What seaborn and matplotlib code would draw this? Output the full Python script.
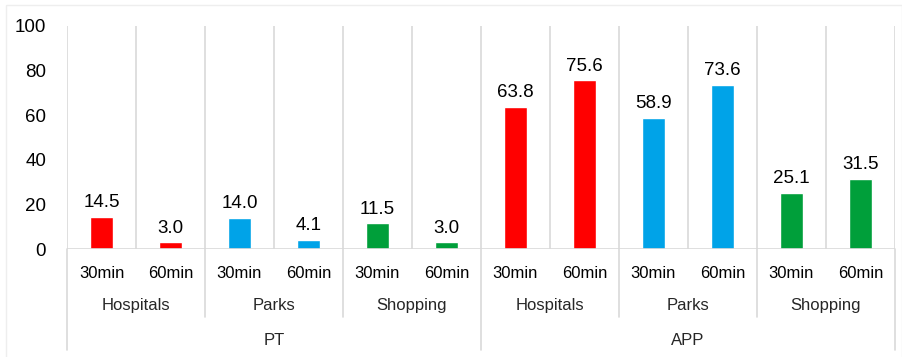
import matplotlib
matplotlib.use("Agg")
import matplotlib.pyplot as plt
import matplotlib.transforms as mtransforms
from matplotlib.patches import Rectangle
import pandas as pd
import seaborn as sns

# Share of population reaching each destination type within a travel-time threshold
modes = ["PT", "APP"]
destinations = ["Hospitals", "Parks", "Shopping"]
thresholds = ["30min", "60min"]
pt_values = [14.5, 3.0, 14.0, 4.1, 11.5, 3.0]
app_values = [63.8, 75.6, 58.9, 73.6, 25.1, 31.5]
dest_colors = {"Hospitals": "#FF0000", "Parks": "#00A3E8", "Shopping": "#009F3A"}

rows = []
for mode, vals in zip(modes, [pt_values, app_values]):
    i = 0
    for dest in destinations:
        for th in thresholds:
            rows.append({"mode": mode, "dest": dest, "th": th,
                         "key": f"{mode}|{dest}|{th}", "value": vals[i]})
            i += 1
df = pd.DataFrame(rows)
palette = {r.key: dest_colors[r.dest] for r in df.itertuples()}

sns.set_theme(style="white")
plt.rcParams["font.family"] = ["Liberation Sans", "DejaVu Sans"]

fig = plt.figure(figsize=(9.03, 3.57), dpi=100)
ax = fig.add_axes([67 / 903, 108 / 357, 828 / 903, 223 / 357])

sns.barplot(data=df, x="key", y="value", hue="key", palette=palette,
            width=0.32, legend=False, ax=ax, saturation=1)

grid_c = "#D9D9D9"
n = len(df)
ax.set_xlim(-0.5, n - 0.5)
ax.set_ylim(0, 100)
ax.set_yticks([0, 20, 40, 60, 80, 100])
ax.tick_params(axis="y", length=0, labelsize=13.5, pad=15, colors="black")
ax.set_xticks(range(n))
ax.set_xticklabels(df["th"], fontsize=12)
ax.tick_params(axis="x", length=0, pad=12, colors="black")
ax.set_xlabel("")
ax.set_ylabel("")
for s in ax.spines.values():
    s.set_visible(False)
ax.axhline(0, color=grid_c, lw=1.2, zorder=1)

# vertical separators between every bar
for b in range(n + 1):
    ax.axvline(b - 0.5, color=grid_c, lw=1.2, zorder=0)

# value labels
for i, v in enumerate(df["value"]):
    ax.text(i, v + 2.5, f"{v:.1f}", ha="center", va="bottom", fontsize=13.5,
            color="black")

# multi-level category axis below the plot
trans = mtransforms.blended_transform_factory(ax.transData, ax.transAxes)
for b in range(0, n + 1, 2):
    bottom = -0.453 if b % 6 == 0 else -0.305
    ax.plot([b - 0.5, b - 0.5], [0, bottom], color=grid_c, lw=1.2,
            transform=trans, clip_on=False)
for g in range(n // 2):
    ax.text(2 * g + 0.5, -0.255, destinations[g % 3], ha="center", va="center",
            fontsize=12, transform=trans)
for m, mode in enumerate(modes):
    ax.text(6 * m + 2.5, -0.41, mode, ha="center", va="center",
            fontsize=12, transform=trans)

# light outer frame
fig.patches.append(Rectangle((6 / 903, -2 / 357), 896 / 903, 354 / 357,
                             transform=fig.transFigure, fill=False,
                             edgecolor="#EEEEEE", lw=1))

fig.savefig("out.png", dpi=100)
